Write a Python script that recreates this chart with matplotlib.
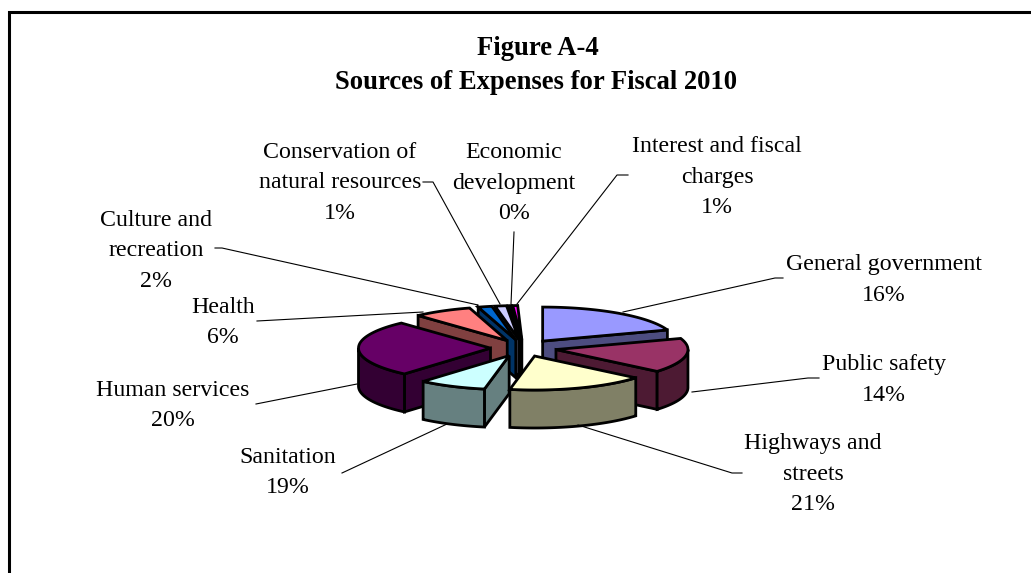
#!/usr/bin/env python3
# -*- coding: utf-8 -*-
import numpy as np
import matplotlib
matplotlib.use('Agg')
import matplotlib.pyplot as plt
from matplotlib.patches import Polygon

###############################################################################
#                                    Data                                     #
###############################################################################
categories = ['General government', 'Public safety', 'Highways and\nstreets',
              'Sanitation', 'Human services', 'Health',
              'Culture and\nrecreation', 'Conservation of\nnatural resources',
              'Economic\ndevelopment', 'Interest and fiscal\ncharges']
percent_labels = [16, 14, 21, 19, 20, 6, 2, 1, 0, 1]

# The printed percentages do not agree with the wedges, so the wedge widths are
# read off the picture separately (share of the full circle, in %)
drawn_share = [19.7, 16.4, 16.9, 8.3, 26.9, 7.2, 1.7, 1.4, 0.4, 0.6]

top_colors  = ['#9999ff', '#993366', '#ffffcc', '#ccffff', '#660066',
               '#ff8080', '#0066cc', '#ccccff', '#000080', '#ff00ff']
side_colors = ['#4d4d80', '#4d1a33', '#808066', '#668080', '#330033',
               '#804040', '#003366', '#666680', '#000040', '#800080']

###############################################################################
#                                   Layout                                    #
###############################################################################
cx, cy  = 523.5, 348                                                            # Pie centre, pixels
rx, ry  = 132, 34                                                               # Ellipse radii of top face
explode = 0.25
depth   = 38
edge_w  = 2.0

# Centre x, first baseline y and line spacing of each label
label_pos = [(884, 270, 31), (884, 370, 31), (813, 449, 30.5), (288, 463, 30),
             (173, 396, 30), (223, 313, 30), (156, 226, 30.5), (340, 158, 30.5),
             (514, 158, 30.5), (717, 152, 30.5)]

leaders = [[(783, 278), (775, 278), (623, 312)],
           [(819, 378), (808, 378), (692, 392)],
           [(742, 473), (732, 473), (578, 425)],
           [(342, 473), (447, 424)],
           [(256, 404), (357, 384)],
           [(257, 321), (423, 312)],
           [(215, 248), (222, 248), (478, 305)],
           [(423, 182), (433, 182), (500, 304)],
           [(514, 232), (511, 304)],
           [(628, 175), (617, 175), (517, 304)]]

###############################################################################
#                                  Functions                                  #
###############################################################################
def rim(theta, x0, y0, drop=0):
    """Points on the slice rim, theta in degrees clockwise from 12 o'clock."""
    t = np.radians(theta)
    return np.column_stack((x0 + rx*np.sin(t), y0 - ry*np.cos(t) + drop))

def draw_slice(ax, start, end, top, side):
    mid = np.radians((start + end)/2)
    x0  = cx + explode*rx*np.sin(mid)
    y0  = cy - explode*ry*np.cos(mid)
    arc = np.linspace(start, end, 60)

    # Cut faces, only those turned toward the viewer
    for theta, visible in ((start, np.sin(np.radians(start)) < 0),
                           (end, np.sin(np.radians(end)) > 0)):
        if visible:
            p = rim(np.array([theta]), x0, y0)[0]
            face = [(x0, y0), p, (p[0], p[1] + depth), (x0, y0 + depth)]
            ax.add_patch(Polygon(face, fc=side, ec='black', lw=edge_w))

    # Outer wall, front half only
    lo, hi = max(start, 90), min(end, 270)
    if lo < hi:
        wall = np.linspace(lo, hi, 60)
        pts  = np.vstack((rim(wall, x0, y0), rim(wall[::-1], x0, y0, depth)))
        ax.add_patch(Polygon(pts, fc=side, ec='black', lw=edge_w))

    pts = np.vstack(([(x0, y0)], rim(arc, x0, y0)))
    ax.add_patch(Polygon(pts, fc=top, ec='black', lw=edge_w))

###############################################################################
#                                    Plot                                     #
###############################################################################
plt.rcParams['font.family'] = ['Liberation Serif', 'DejaVu Serif']

fig = plt.figure(figsize=(10.31, 5.73), dpi=100)
ax  = fig.add_axes([0, 0, 1, 1])
ax.set_xlim(0, 1031)
ax.set_ylim(573, 0)
ax.axis('off')

# Frame, only left and top sides are in the picture
ax.plot([8.5, 8.5, 1031], [573, 11.5, 11.5], color='black', lw=2.2,
        solid_joinstyle='miter')

ax.text(537.5, 55, 'Figure A-4', ha='center', va='baseline', fontsize=19.2,
        fontweight='bold')
ax.text(536.5, 89, 'Sources of Expenses for Fiscal 2010', ha='center',
        va='baseline', fontsize=19.2, fontweight='bold')

# Leader lines sit under the pie
for pts in leaders:
    xs, ys = zip(*pts)
    ax.plot(xs, ys, color='black', lw=0.8)

# Slices, back to front
edges = np.concatenate(([0], np.cumsum(drawn_share)))*3.6
order = sorted(range(len(drawn_share)),
               key=lambda i: -np.cos(np.radians((edges[i] + edges[i+1])/2)))
for i in order:
    draw_slice(ax, edges[i], edges[i+1], top_colors[i], side_colors[i])

# Labels
for name, pct, (x, y, step) in zip(categories, percent_labels, label_pos):
    for n, line in enumerate(name.split('\n') + [f'{pct}%']):
        ax.text(x, y + n*step, line, ha='center', va='baseline', fontsize=17.2)

fig.savefig('out.png', dpi=100)
